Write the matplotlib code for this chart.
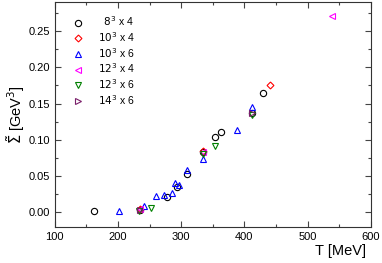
import matplotlib.pyplot as plt
from matplotlib.ticker import MultipleLocator

plt.rcParams['font.family'] = ['Liberation Sans', 'DejaVu Sans']
plt.rcParams['font.size'] = 8

# data: T [MeV], Sigma-tilde [GeV^3]
t_8x4 = [162, 235, 277, 293, 310, 334, 354, 363, 412, 429]
s_8x4 = [0.001, 0.003, 0.021, 0.035, 0.053, 0.083, 0.104, 0.111, 0.137, 0.165]

t_10x4 = [235, 334, 440]
s_10x4 = [0.004, 0.085, 0.176]

t_10x6 = [202, 241, 261, 273, 285, 291, 296, 310, 335, 389, 412]
s_10x6 = [0.001, 0.008, 0.023, 0.024, 0.027, 0.041, 0.037, 0.058, 0.073, 0.113, 0.145]

t_12x4 = [235, 334, 538]
s_12x4 = [0.005, 0.083, 0.271]

t_12x6 = [234, 253, 334, 354, 412]
s_12x6 = [0.001, 0.006, 0.081, 0.092, 0.134]

t_14x6 = [235, 412]
s_14x6 = [0.003, 0.137]

fig = plt.figure(figsize=(3.82, 2.63), dpi=100)
ax = fig.add_axes([0.143, 0.138, 0.828, 0.854])

ms = 4.5
mew = 0.8
ax.plot(t_8x4, s_8x4, 'o', mfc='none', mec='black', ms=ms, mew=mew, label=r'  $8^3$ x 4')
ax.plot(t_10x4, s_10x4, 'D', mfc='none', mec='red', ms=ms - 1, mew=mew, label=r'$10^3$ x 4')
ax.plot(t_10x6, s_10x6, '^', mfc='none', mec='blue', ms=ms, mew=mew, label=r'$10^3$ x 6')
ax.plot(t_12x4, s_12x4, '<', mfc='none', mec='magenta', ms=ms, mew=mew, label=r'$12^3$ x 4')
ax.plot(t_12x6, s_12x6, 'v', mfc='none', mec='green', ms=ms, mew=mew, label=r'$12^3$ x 6')
ax.plot(t_14x6, s_14x6, '>', mfc='none', mec='#7a1f6a', ms=ms, mew=mew, label=r'$14^3$ x 6')

ax.set_xlim(100, 600)
ax.set_ylim(-0.02, 0.29)
ax.xaxis.set_major_locator(MultipleLocator(100))
ax.xaxis.set_minor_locator(MultipleLocator(50))
ax.yaxis.set_major_locator(MultipleLocator(0.05))
ax.yaxis.set_minor_locator(MultipleLocator(0.025))
ax.yaxis.set_major_formatter(plt.FormatStrFormatter('%.2f'))
ax.tick_params(which='both', direction='in', top=True, right=True, width=0.8,
               color='#444444')
ax.tick_params(which='major', length=4)
ax.tick_params(which='minor', length=2)
for sp in ax.spines.values():
    sp.set_linewidth(0.8)
    sp.set_color('#333333')

ax.set_xlabel('T [MeV]', fontsize=10.5, labelpad=1)
ax.xaxis.set_label_coords(0.905, -0.075)
ax.set_ylabel(r'$\tilde{\Sigma}$ [GeV$^3$]', fontsize=10.5, labelpad=1)

ax.legend(loc='upper left', frameon=False, fontsize=7.5, handletextpad=1.0,
          borderaxespad=0.9, borderpad=0.3, labelspacing=0.18)

fig.savefig('out.png', dpi=100)
